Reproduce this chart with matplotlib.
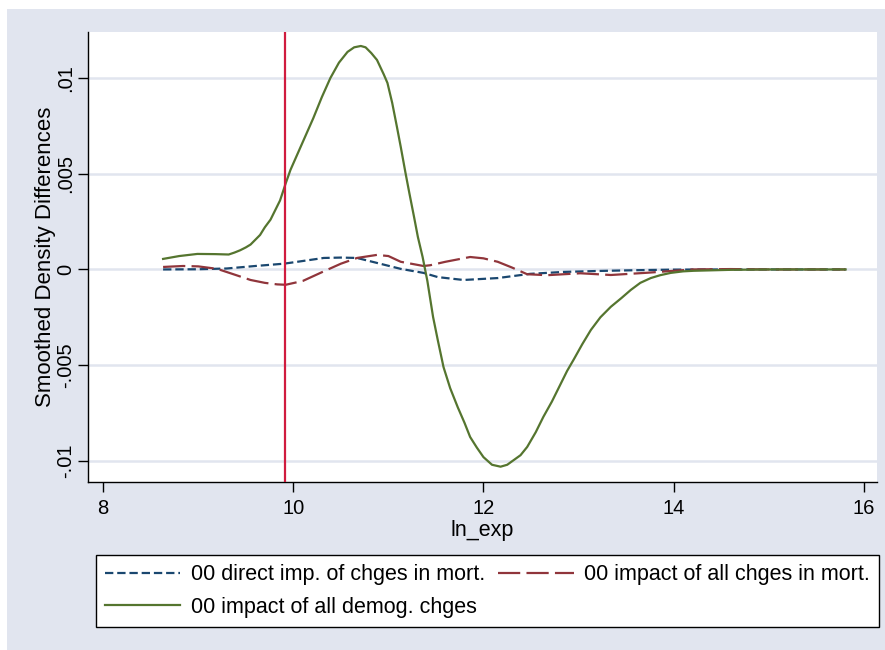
import numpy as np
import matplotlib
matplotlib.use('Agg')
import matplotlib.pyplot as plt
from matplotlib.patches import Rectangle

plt.rcParams['font.family'] = ['Liberation Sans', 'DejaVu Sans']
plt.rcParams['lines.scale_dashes'] = False

#Values
x_green = [8.63, 8.8, 8.99, 9.18, 9.32, 9.38, 9.44, 9.5, 9.55, 9.6, 9.65, 9.7, 9.76, 9.81,
           9.86, 9.92, 9.97, 10.05, 10.13, 10.21, 10.3, 10.39, 10.48, 10.57, 10.64, 10.71,
           10.76, 10.82, 10.88, 10.95, 10.99, 11.04, 11.09, 11.13, 11.18, 11.22, 11.27, 11.31,
           11.36, 11.41, 11.47, 11.52, 11.58, 11.65, 11.73, 11.8, 11.86, 11.93, 12.0, 12.09,
           12.18, 12.25, 12.32, 12.39, 12.46, 12.55, 12.63, 12.72, 12.81, 12.88, 12.95, 13.04,
           13.13, 13.23, 13.34, 13.45, 13.55, 13.65, 13.76, 13.86, 13.97, 14.1, 14.21, 14.6,
           15.0, 15.4, 15.81]
y_green = [0.00055, 0.0007, 0.00081, 0.0008, 0.00078, 0.00088, 0.001, 0.00115, 0.0013,
           0.00155, 0.0018, 0.0022, 0.0026, 0.0031, 0.0036, 0.0045, 0.0052, 0.0061, 0.0070,
           0.0079, 0.0090, 0.01, 0.0108, 0.01136, 0.0116, 0.01167, 0.0116, 0.0113, 0.01094,
           0.0102, 0.00974, 0.0087, 0.00744, 0.0064, 0.00504, 0.004, 0.00274, 0.0017, 0.00065,
           -0.0006, -0.00248, -0.0037, -0.0051, -0.0062, -0.0072, -0.008, -0.00875, -0.0093,
           -0.0098, -0.0102, -0.0103, -0.0102, -0.00995, -0.0097, -0.00927, -0.0085, -0.0077,
           -0.0069, -0.006, -0.0053, -0.0047, -0.0039, -0.00316, -0.0025, -0.00195, -0.0015,
           -0.00107, -0.0007, -0.00045, -0.0003, -0.00018, -0.0001, -0.00007, -0.00002, 0.0,
           0.0, 0.0]

x_blue = [8.63, 9.0, 9.3, 9.6, 9.9, 10.07, 10.32, 10.5, 10.67, 10.88, 11.13, 11.37, 11.52,
          11.79, 12.15, 12.49, 12.84, 13.2, 13.6, 14.0, 14.5, 15.0, 15.81]
y_blue = [0.0, 0.00001, 0.00005, 0.00018, 0.0003, 0.00042, 0.0006, 0.00062, 0.0006, 0.00034,
          0.00003, -0.00018, -0.0004, -0.00055, -0.00045, -0.00023, -0.00013, -0.00008,
          -0.00004, -0.00001, 0.0, 0.0, 0.0]

x_red = [8.63, 8.84, 9.0, 9.2, 9.4, 9.55, 9.7, 9.83, 9.92, 10.1, 10.32, 10.5, 10.67, 10.88,
         11.0, 11.13, 11.37, 11.44, 11.6, 11.86, 12.0, 12.15, 12.3, 12.46, 12.67, 13.02, 13.34,
         13.73, 14.2, 14.6, 15.0, 15.81]
y_red = [0.00013, 0.00018, 0.00016, 0.00003, -0.0003, -0.00055, -0.0007, -0.00078, -0.0008,
         -0.0006, -0.0001, 0.0003, 0.0006, 0.00076, 0.0007, 0.0004, 0.00018, 0.00022, 0.0004,
         0.00065, 0.00058, 0.0004, 0.0001, -0.00025, -0.0003, -0.0002, -0.00029, -0.00017,
         0.0, 0.00002, 0.0, 0.0]

vline_x = 9.91
x_ticks = [8, 10, 12, 14, 16]
y_ticks = [-0.01, -0.005, 0, 0.005, 0.01]
y_ticklabels = ['-.01', '-.005', '0', '.005', '.01']
labels = ['00 direct imp. of chges in mort.', '00 impact of all chges in mort.',
          '00 impact of all demog. chges']

W, H = 885, 650
bg = '#e1e5ef'
fig = plt.figure(figsize=(W / 100, H / 100), dpi=100, facecolor='white')
fig.patches.append(Rectangle((7 / W, 0), 1 - 7 / W, 1 - 9 / H, transform=fig.transFigure,
                             facecolor=bg, edgecolor='none', zorder=-10))

ax = fig.add_axes([88 / W, 1 - 482 / H, (877 - 88) / W, (482 - 32) / H])
ax.set_facecolor('white')

l1, = ax.plot(x_blue, y_blue, color='#1a476f', lw=1.6, dashes=(6, 2.8), zorder=3)
l2, = ax.plot(x_red, y_red, color='#90353b', lw=1.6, dashes=(16, 4.5), zorder=3)
l3, = ax.plot(x_green, y_green, color='#55752f', lw=1.6, zorder=4)
ax.axvline(vline_x, color='#d01c3f', lw=1.6, zorder=5)

ax.set_xlim(7.84, 16.14)
ax.set_ylim(-0.0111, 0.0124)
ax.set_xticks(x_ticks)
ax.set_yticks(y_ticks)
ax.set_yticklabels(y_ticklabels, rotation=90, va='center')
ax.grid(axis='y', color=bg, lw=1.8, zorder=0)
ax.grid(axis='x', visible=False)
ax.set_axisbelow(True)

for s in ['top', 'right']:
    ax.spines[s].set_visible(False)
for s in ['left', 'bottom']:
    ax.spines[s].set_linewidth(1.0)
    ax.spines[s].set_color('black')
ax.tick_params(axis='both', direction='out', length=7, width=1.0, labelsize=14.5)
ax.tick_params(axis='x', pad=5)
ax.tick_params(axis='y', pad=2)

ax.set_xlabel('ln_exp', fontsize=15.5, labelpad=2)
ax.set_ylabel('Smoothed Density Differences', fontsize=16, labelpad=0)

#order handles so rows read blue, red / green
leg = fig.legend([l1, l3, l2], [labels[0], labels[2], labels[1]], ncol=2,
                 loc='upper left', bbox_to_anchor=(96 / W, 1 - 555 / H),
                 fontsize=15.5, frameon=True, fancybox=False, framealpha=1,
                 handlelength=3.5, handletextpad=0.5, borderpad=0.42, labelspacing=0.55,
                 columnspacing=0.6, borderaxespad=0)
leg.get_frame().set_edgecolor('black')
leg.get_frame().set_linewidth(1.0)

fig.savefig('out.png', dpi=100, facecolor=fig.get_facecolor())
